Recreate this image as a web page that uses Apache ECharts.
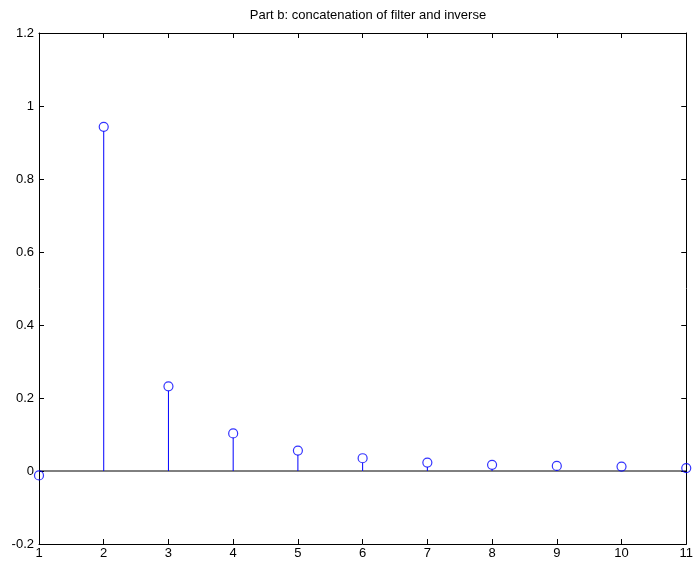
<!DOCTYPE html>
<html>
<head>
<meta charset="utf-8">
<script src="https://cdn.jsdelivr.net/npm/echarts@6/dist/echarts.min.js"></script>
<style>html,body{margin:0;padding:0;background:#fff}#c{width:696px;height:563px}</style>
</head>
<body>
<div id="c"></div>
<script>
var xValues = [1, 2, 3, 4, 5, 6, 7, 8, 9, 10, 11];
var yValues = [-0.012, 0.943, 0.232, 0.103, 0.056, 0.035, 0.023, 0.017, 0.014, 0.012, 0.008];
var titleText = 'Part b: concatenation of filter and inverse';
var yTickLabels = ['-0.2', '0', '0.2', '0.4', '0.6', '0.8', '1', '1.2'];

var pts = xValues.map(function (x, i) { return [x, yValues[i]]; });
var font = 'Liberation Sans, Arial, sans-serif';
var axisCol = '#000';
var markerR = 4.5;

var chart = echarts.init(document.getElementById('c'), null, {renderer: 'canvas'});
var baseAxisX = {
  type: 'value', min: 1, max: 11, interval: 1,
  axisLine: {show: true, onZero: false, lineStyle: {color: axisCol, width: 1}},
  axisTick: {show: true, inside: true, length: 5, lineStyle: {color: axisCol}},
  splitLine: {show: false}
};
var baseAxisY = {
  type: 'value', min: -0.2, max: 1.2, interval: 0.2,
  axisLine: {show: true, onZero: false, lineStyle: {color: axisCol, width: 1}},
  axisTick: {show: true, inside: true, length: 5, lineStyle: {color: axisCol}},
  splitLine: {show: false}
};
chart.setOption({
  animation: false,
  backgroundColor: '#fff',
  title: {
    text: titleText, left: 363, top: 4, textAlign: 'center',
    textStyle: {fontFamily: font, fontSize: 13, fontWeight: 'normal', color: '#000'}
  },
  grid: {left: 39, right: 6, top: 33, bottom: 19, containLabel: false},
  xAxis: [
    Object.assign({}, baseAxisX, {position: 'bottom',
      axisLabel: {show: true, margin: 3, fontFamily: font, fontSize: 13, color: '#000'}}),
    Object.assign({}, baseAxisX, {position: 'top', axisLabel: {show: false}})
  ],
  yAxis: [
    Object.assign({}, baseAxisY, {position: 'left',
      axisLabel: {show: true, margin: 5, fontFamily: font, fontSize: 13, color: '#000',
        formatter: function (v) { var i = Math.round((v + 0.2) / 0.2); return yTickLabels[i]; }}}),
    Object.assign({}, baseAxisY, {position: 'right', axisLabel: {show: false}})
  ],
  series: [
    {
      type: 'line', xAxisIndex: 0, yAxisIndex: 0,
      data: [[1, 0], [11, 0]], symbol: 'none',
      lineStyle: {color: '#000', width: 1}, silent: true, z: 1
    },
    {
      type: 'custom', xAxisIndex: 0, yAxisIndex: 0, data: pts, z: 2,
      renderItem: function (params, api) {
        var top = api.coord([api.value(0), api.value(1)]);
        var bot = api.coord([api.value(0), 0]);
        var yEnd = top[1] < bot[1] ? Math.min(bot[1], top[1] + markerR) : Math.max(bot[1], top[1] - markerR);
        return {type: 'line', shape: {x1: top[0], y1: bot[1], x2: top[0], y2: yEnd},
          style: {stroke: '#0000ff', lineWidth: 1}};
      }
    },
    {
      type: 'scatter', xAxisIndex: 0, yAxisIndex: 0, data: pts, z: 3,
      symbol: 'circle', symbolSize: markerR * 2,
      itemStyle: {color: 'rgba(0,0,0,0)', borderColor: '#0000ff', borderWidth: 1.2}
    }
  ]
});
</script>
</body>
</html>
